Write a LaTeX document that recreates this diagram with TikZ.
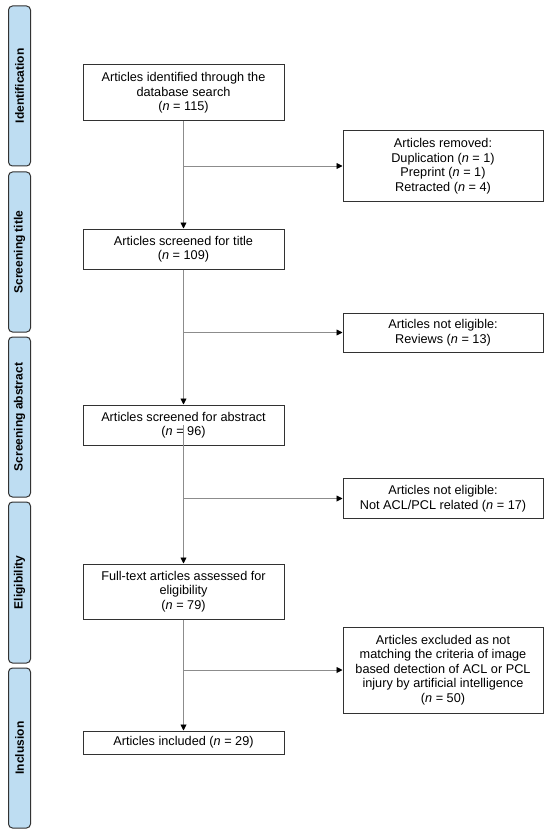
\documentclass[tikz,border=0pt]{standalone}
\usepackage{fontspec}
\setmainfont{Liberation Sans}
\usetikzlibrary{arrows.meta}
\definecolor{barblue}{RGB}{190,221,242}
\definecolor{boxline}{RGB}{50,50,50}
\definecolor{conn}{RGB}{140,140,140}
\begin{document}
\begin{tikzpicture}[x=1pt,y=-1pt,
  phase/.style={draw=boxline, fill=barblue, line width=1pt, rounded corners=4pt,
    minimum width=22pt, inner sep=0pt},
  phaselabel/.style={rotate=90, font=\fontsize{12}{14}\selectfont\bfseries, inner sep=0pt},
  mainbox/.style={draw=boxline, line width=1pt, minimum width=201pt, inner sep=0pt,
    align=center, font=\fontsize{12.7}{14.5}\selectfont},
  sidebox/.style={draw=boxline, line width=1pt, minimum width=200pt, inner sep=0pt,
    align=center, font=\fontsize{12.7}{14.5}\selectfont},
  conline/.style={draw=conn, line width=0.9pt},
  arr/.style={conline, -{Triangle[length=6pt,width=6pt,color=black]}}
]
\useasboundingbox (0,0) rectangle (550,837);
\fill[white] (0,0) rectangle (550,837);

% phase bars
\node[phase, minimum height=160pt] (p1) at (19.5,86) {};
\node[phaselabel] (l1) at (p1.center) {Identification};
\node[phase, minimum height=160pt] (p2) at (19.5,252) {};
\node[phaselabel] (l2) at (p2.center) {Screening title};
\node[phase, minimum height=160pt] (p3) at (19.5,417) {};
\node[phaselabel] (l3) at (p3.center) {Screening abstract};
\node[phase, minimum height=161pt] (p4) at (19.5,582.5) {};
\node[phaselabel] (l4) at (p4.center) {Eligibility};
\node[phase, minimum height=160pt] (p5) at (19.5,748) {};
\node[phaselabel] (l5) at (p5.center) {Inclusion};

% main boxes
\node[mainbox, minimum height=56pt] (b1) at (183.5,93) {Articles identified through the\\database search\\(\textit{n} = 115)};
\node[mainbox, minimum height=40pt] (b2) at (183.5,249) {Articles screened for title\\(\textit{n} = 109)};
\node[mainbox, minimum height=40pt] (b3) at (183.5,425) {Articles screened for abstract\\(\textit{n} = 96)};
\node[mainbox, minimum height=55pt] (b4) at (183.5,591.5) {Full-text articles assessed for\\eligibility\\(\textit{n} = 79)};
\node[mainbox, minimum height=23pt] (b5) at (183.5,742.5) {Articles included (\textit{n} = 29)};

% side boxes
\node[sidebox, minimum height=70pt] (s1) at (443,166) {Articles removed:\\Duplication (\textit{n} = 1)\\Preprint (\textit{n} = 1)\\Retracted (\textit{n} = 4)};
\node[sidebox, minimum height=39pt] (s2) at (443,332.5) {Articles not eligible:\\Reviews (\textit{n} = 13)};
\node[sidebox, minimum height=40pt] (s3) at (443,498.5) {Articles not eligible:\\Not ACL/PCL related (\textit{n} = 17)};
\node[sidebox, minimum height=86pt] (s4) at (443,670) {Articles excluded as not\\matching the criteria of image\\based detection of ACL or PCL\\injury by artificial intelligence\\(\textit{n} = 50)};

% vertical connectors
\draw[arr] (b1) -- (b2);
\draw[arr] (b2) -- (b3);
\draw[arr] (b3.center) -- (b4);
\draw[arr] (b4) -- (b5);

% branches
\draw[arr] (b1.south |- s1.west) -- (s1.west);
\draw[arr] (b2.south |- s2.west) -- (s2.west);
\draw[arr] (b3.south |- s3.west) -- (s3.west);
\draw[arr] (b4.south |- s4.west) -- (s4.west);
\end{tikzpicture}
\end{document}
